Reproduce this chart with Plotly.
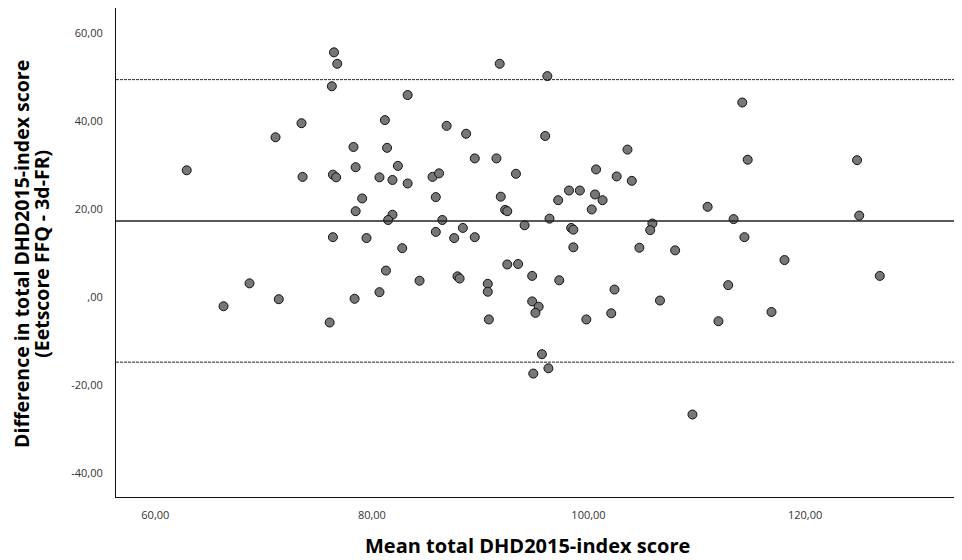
import plotly.graph_objects as go

# Mean of the two methods (x) and difference (y)
mean_score = [
    62.9, 76.5, 76.8, 76.3, 73.5, 71.1, 78.3, 78.5, 73.6, 76.4, 76.7, 79.1, 78.5, 76.4,
    79.5, 81.2, 81.4, 80.7, 81.9, 82.4, 83.3, 83.3, 81.9, 81.5, 82.8, 85.6, 86.2, 86.9,
    85.9, 86.5, 85.9, 87.6, 88.4, 89.5, 88.7, 89.5, 91.8, 91.5, 93.3, 91.9, 92.3, 92.5,
    94.1, 96.2, 96.0, 96.4, 97.2, 98.2, 99.2, 98.4, 98.6, 98.6, 100.7, 100.6, 100.3, 101.3,
    103.6, 102.6, 104.0, 105.9, 105.7, 104.7, 108.0, 114.2, 114.7, 111.0, 113.4, 114.4,
    124.8, 125.0,
    66.3, 68.7, 71.4, 76.1, 78.4, 81.3, 80.7, 84.4, 87.9, 88.1, 90.7, 90.7, 90.8, 92.5,
    93.5, 94.8, 97.3, 94.8, 95.4, 95.1, 99.8, 95.7, 96.3, 94.9,
    118.1, 102.4, 106.6, 102.1, 112.9, 112.0, 116.9, 109.6, 126.9,
]
diff_score = [
    28.8, 55.6, 53.0, 47.9, 39.5, 36.3, 34.1, 29.5, 27.3, 27.8, 27.2, 22.4, 19.5, 13.6,
    13.4, 40.2, 33.9, 27.2, 26.6, 29.8, 45.9, 25.8, 18.7, 17.5, 11.1, 27.3, 28.1, 38.9,
    22.7, 17.5, 14.8, 13.4, 15.7, 13.6, 37.1, 31.5, 53.0, 31.5, 28.0, 22.8, 19.8, 19.5,
    16.3, 50.2, 36.6, 17.8, 22.0, 24.2, 24.2, 15.7, 15.3, 11.3, 29.0, 23.3, 19.9, 22.0,
    33.5, 27.4, 26.4, 16.7, 15.2, 11.2, 10.6, 44.2, 31.2, 20.5, 17.7, 13.6,
    31.1, 18.5,
    -2.1, 3.1, -0.5, -5.8, -0.4, 6.0, 1.1, 3.7, 4.7, 4.2, 3.0, 1.2, -5.1, 7.4,
    7.5, 4.8, 3.8, -1.0, -2.2, -3.6, -5.1, -13.0, -16.2, -17.4,
    8.4, 1.7, -0.8, -3.7, 2.7, -5.5, -3.4, -26.7, 4.8,
]

mean_diff = 17.3
upper_loa = 49.4
lower_loa = -14.8

x_tickvals = [60, 80, 100, 120]
x_ticktext = ["60,00", "80,00", "100,00", "120,00"]
y_tickvals = [60, 40, 20, 0, -20, -40]
y_ticktext = ["60,00", "40,00", "20,00", ",00", "-20,00", "-40,00"]

x_title = "Mean total DHD2015-index score"
y_title_lines = ["Difference in total DHD2015-index score", "(Eetscore FFQ - 3d-FR)"]

fig = go.Figure()
fig.add_trace(go.Scatter(
    x=mean_score, y=diff_score, mode="markers",
    marker=dict(size=9, color="#777777", line=dict(color="#111111", width=1)),
    showlegend=False, hoverinfo="x+y",
))

fig.add_hline(y=mean_diff, line=dict(color="#222222", width=1.5))
fig.add_hline(y=upper_loa, line=dict(color="#222222", width=1, dash="3px,1px"))
fig.add_hline(y=lower_loa, line=dict(color="#222222", width=1, dash="3px,1px"))

fig.update_layout(
    width=954, height=552,
    margin=dict(l=108, r=4, t=0, b=63),
    plot_bgcolor="white", paper_bgcolor="white",
    font=dict(family="Open Sans, sans-serif", color="#333333"),
    xaxis=dict(
        range=[56.37, 134.12], tickvals=x_tickvals, ticktext=x_ticktext,
        showgrid=False, zeroline=False, showline=True, linecolor="#111111", linewidth=1,
        ticks="", tickfont=dict(size=11, color="#333333"), ticklabelstandoff=8,
    ),
    yaxis=dict(
        range=[-45.45, 65.68], tickvals=y_tickvals, ticktext=y_ticktext,
        showgrid=False, zeroline=False, showline=True, linecolor="#111111", linewidth=1,
        ticks="", tickfont=dict(size=11, color="#333333"), ticklabelstandoff=10,
    ),
    annotations=[
        dict(text="<b>" + x_title + "</b>", xref="paper", yref="paper",
             x=0.489, y=-0.1002, xanchor="center", yanchor="middle", showarrow=False,
             font=dict(size=20, color="#000000")),
        dict(text="<b>" + y_title_lines[0] + "</b>",
             xref="paper", yref="paper", x=-0.1116, y=0.497, xanchor="center",
             yanchor="middle", textangle=-90, showarrow=False,
             font=dict(size=19.5, color="#000000")),
        dict(text="<b>" + y_title_lines[1] + "</b>",
             xref="paper", yref="paper", x=-0.0880, y=0.497, xanchor="center",
             yanchor="middle", textangle=-90, showarrow=False,
             font=dict(size=19.5, color="#000000")),
    ],
)

fig.write_html("out.html")
